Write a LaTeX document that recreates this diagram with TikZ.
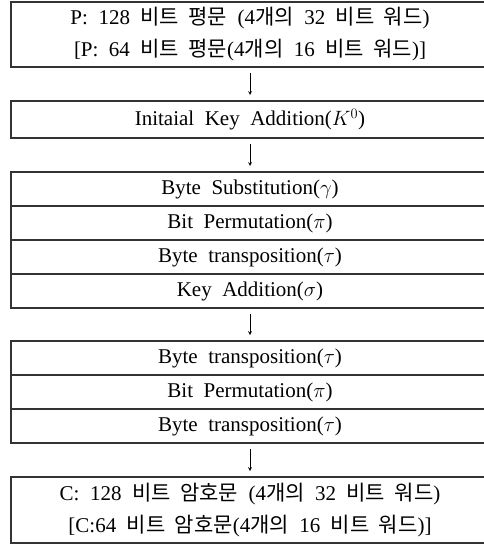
\documentclass[tikz,border=0pt]{standalone}
\usepackage{fontspec}
\setmainfont{Liberation Serif}[WordSpace=2]
\newfontfamily\kr{Noto Sans CJK KR}[WordSpace=2]
\usetikzlibrary{positioning, arrows}

\begin{document}
\begin{tikzpicture}[x=1pt, y=1pt,
    box/.style={rectangle, draw=black!80, line width=1.2pt, minimum width=478pt, minimum height=34pt, inner sep=0pt, outer sep=0pt, align=center, font=\fontsize{21}{32}\selectfont},
    arrow/.style={->, >=stealth, line width=0.7pt, shorten >=6pt, shorten <=6pt}
]
    \useasboundingbox (0,0) rectangle (484,-544);

    % Plaintext
    \node[box, minimum height=65pt, anchor=north] (plain) at (250,-2)
        {P: 128 {\kr 비트 평문} (4{\kr 개의} 32 {\kr 비트 워드})\\
         {[}P: 64 {\kr 비트 평문}(4{\kr 개의} 16 {\kr 비트 워드}){]}};
    \node[box, minimum height=37pt, below=34pt of plain] (init) {Initaial Key Addition($K^0$)};
    \draw[arrow] (plain) -- (init);

    % Round
    \node[box, below=34pt of init] (r1) {Byte Substitution($\gamma$)};
    \node[box, below=0pt of r1] (r2) {Bit Permutation($\pi$)};
    \node[box, below=0pt of r2] (r3) {Byte transposition($\tau$)};
    \node[box, below=0pt of r3] (r4) {Key Addition($\sigma$)};
    \draw[arrow] (init) -- (r1);

    % Final
    \node[box, below=33pt of r4] (f1) {Byte transposition($\tau$)};
    \node[box, below=0pt of f1] (f2) {Bit Permutation($\pi$)};
    \node[box, below=0pt of f2] (f3) {Byte transposition($\tau$)};
    \draw[arrow] (r4) -- (f1);

    % Ciphertext
    \node[box, minimum height=66pt, below=34pt of f3] (cipher)
        {C: 128 {\kr 비트 암호문} (4{\kr 개의} 32 {\kr 비트 워드})\\
         {[}C:64 {\kr 비트 암호문}(4{\kr 개의} 16 {\kr 비트 워드}){]}};
    \draw[arrow] (f3) -- (cipher);
\end{tikzpicture}
\end{document}
